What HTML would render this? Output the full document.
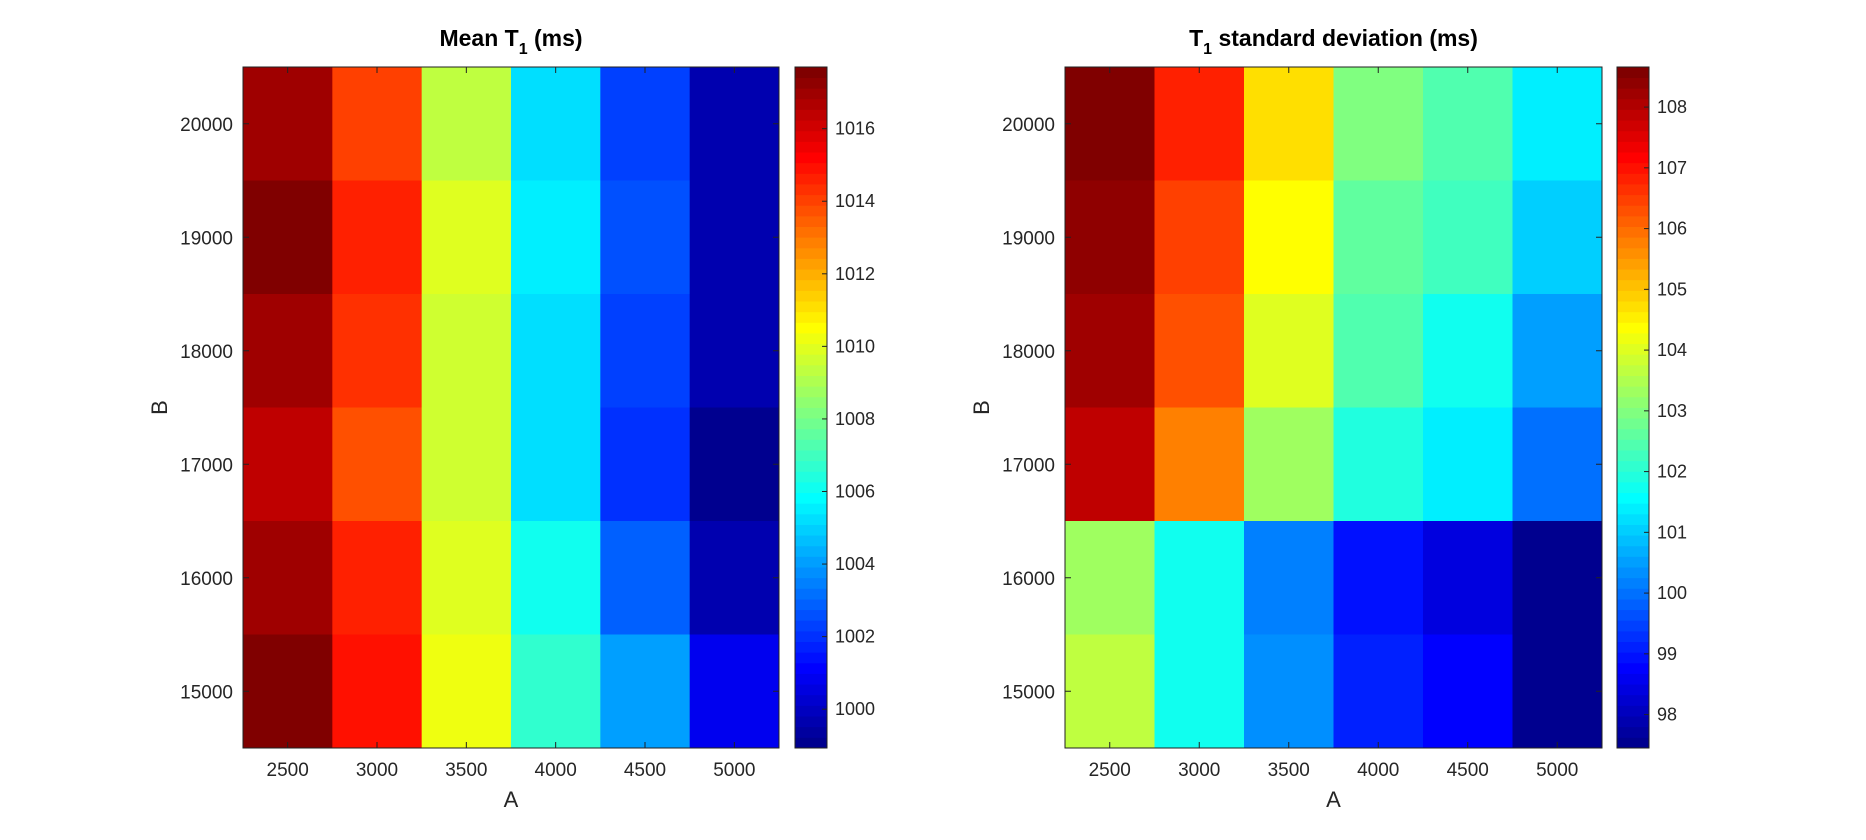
<!DOCTYPE html>
<html><head><meta charset="utf-8">
<style>
html,body{margin:0;padding:0;background:#fff;}
svg{display:block;font-family:"Liberation Sans",Arial,sans-serif;}
</style></head>
<body>
<svg id="fig" width="1866" height="840" viewBox="0 0 1866 840"></svg>
<script>
const xCategories = [2500, 3000, 3500, 4000, 4500, 5000];
const yCategories = [20000, 19000, 18000, 17000, 16000, 15000];
const meanT1 = [
  [1017.1, 1013.9, 1009.2, 1005.1, 1002.4, 999.8],
  [1017.6, 1014.5, 1009.8, 1005.5, 1002.6, 999.7],
  [1017.1, 1014.2, 1009.5, 1005.3, 1002.4, 999.6],
  [1016.5, 1013.6, 1009.5, 1005.1, 1002.0, 998.9],
  [1017.1, 1014.5, 1009.8, 1006.0, 1003.0, 999.6],
  [1017.7, 1015.0, 1010.2, 1006.8, 1004.0, 1000.8]
];
const sdT1 = [
  [108.6, 106.75, 104.7, 103.05, 102.5, 101.4],
  [108.4, 106.4, 104.3, 102.7, 102.2, 101.0],
  [108.3, 106.3, 103.95, 102.4, 101.8, 100.6],
  [107.8, 105.7, 103.4, 101.9, 101.4, 100.0],
  [103.4, 101.8, 100.1, 99.0, 98.5, 97.45],
  [103.6, 101.8, 100.3, 99.2, 98.7, 97.5]
];
const meanRange = [998.93, 1017.7];
const sdRange = [97.45, 108.66];
const meanTicks = [1000, 1002, 1004, 1006, 1008, 1010, 1012, 1014, 1016];
const sdTicks = [98, 99, 100, 101, 102, 103, 104, 105, 106, 107, 108];

const NS = "http://www.w3.org/2000/svg";
const svg = document.getElementById('fig');
function mk(tag, attrs, parent) {
  const e = document.createElementNS(NS, tag);
  for (const k in attrs) e.setAttribute(k, attrs[k]);
  (parent || svg).appendChild(e);
  return e;
}
function clamp(v){return Math.max(0, Math.min(1, v));}
function jet(idx) {
  const x = (idx + 1) / 64;
  const r = clamp(1.5 - Math.abs(4*x - 3));
  const g = clamp(1.5 - Math.abs(4*x - 2));
  const b = clamp(1.5 - Math.abs(4*x - 1));
  return `rgb(${Math.round(r*255)},${Math.round(g*255)},${Math.round(b*255)})`;
}
function colorFor(v, range) {
  let idx = Math.floor((v - range[0]) / (range[1] - range[0]) * 64);
  idx = Math.max(0, Math.min(63, idx));
  return jet(idx);
}

function drawPanel(cfg) {
  const g = mk('g', {});
  
  
  const {x0, x1, y0, y1} = cfg;
  const nx = xCategories.length, ny = yCategories.length;
  const cw = (x1 - x0) / nx, ch = (y1 - y0) / ny;
  const xScale = i => x0 + (i + 0.5) * cw;
  const yScale = j => y0 + (j + 0.5) * ch;
  cfg.data.forEach((row, j) => row.forEach((v, i) => {
    const r = mk('rect', {x: xScale(i) - cw/2, y: yScale(j) - ch/2, width: cw + 0.5, height: ch + 0.5, fill: colorFor(v, cfg.range)}, g);
    
    
  }));
  const box = mk('rect', {x: x0, y: y0, width: x1 - x0, height: y1 - y0, fill: 'none', stroke: '#222', 'stroke-width': 1}, g);
  
  
  xCategories.forEach((c, i) => {
    const x = xScale(i);
    mk('line', {x1: x, x2: x, y1: y1, y2: y1 - 6, stroke: '#222'}, g);
    mk('line', {x1: x, x2: x, y1: y0, y2: y0 + 6, stroke: '#222'}, g);
    const t = mk('text', {x: x, y: 776, 'text-anchor': 'middle', 'font-size': 19, fill: '#262626'}, g);
    t.textContent = c;
    
    
  });
  yCategories.forEach((c, j) => {
    const y = yScale(j);
    mk('line', {x1: x0, x2: x0 + 6, y1: y, y2: y, stroke: '#222'}, g);
    mk('line', {x1: x1, x2: x1 - 6, y1: y, y2: y, stroke: '#222'}, g);
    const t = mk('text', {x: x0 - 10, y: y + 7, 'text-anchor': 'end', 'font-size': 19, fill: '#262626'}, g);
    t.textContent = c;
    
    
  });
  const xl = mk('text', {x: (x0 + x1)/2, y: 807, 'text-anchor': 'middle', 'font-size': 22, fill: '#262626'}, g);
  xl.textContent = 'A';
  
  
  const yl = mk('text', {x: cfg.bx, y: (y0 + y1)/2, 'text-anchor': 'middle', 'font-size': 22, fill: '#262626', transform: `rotate(-90 ${cfg.bx} ${(y0+y1)/2})`}, g);
  yl.textContent = 'B';
  
  
  const tt = mk('text', {x: (x0 + x1)/2, y: 46, 'text-anchor': 'middle', 'font-size': 23, 'font-weight': 'bold', fill: '#000'}, g);
  
  
  cfg.title(tt);
  const cb = mk('g', {}, g);
  
  
  const bh = (y1 - y0) / 64;
  for (let k = 0; k < 64; k++) {
    const r = mk('rect', {x: cfg.cx0, y: y1 - (k+1)*bh, width: cfg.cx1 - cfg.cx0, height: bh + 0.4, fill: jet(k)}, cb);
    
    
  }
  mk('rect', {x: cfg.cx0, y: y0, width: cfg.cx1 - cfg.cx0, height: y1 - y0, fill: 'none', stroke: '#222'}, cb);
  const vScale = v => y1 - (v - cfg.range[0]) / (cfg.range[1] - cfg.range[0]) * (y1 - y0);
  cfg.ticks.forEach(v => {
    const y = vScale(v);
    mk('line', {x1: cfg.cx1, x2: cfg.cx1 - 5, y1: y, y2: y, stroke: '#222'}, cb);
    const t = mk('text', {x: cfg.cx1 + 8, y: y + 6, 'font-size': 18, fill: '#262626'}, cb);
    t.textContent = v;
    
    
  });
}

drawPanel({name: 'mean-t1-panel', x0: 243, x1: 779, y0: 67, y1: 748, bx: 167,
  cx0: 795, cx1: 827, data: meanT1, range: meanRange, ticks: meanTicks,
  title: t => { t.innerHTML = 'Mean T<tspan font-size="16" dy="8">1</tspan><tspan dy="-8"> (ms)</tspan>'; }});
drawPanel({name: 'sd-t1-panel', x0: 1065, x1: 1602, y0: 67, y1: 748, bx: 989,
  cx0: 1617, cx1: 1649, data: sdT1, range: sdRange, ticks: sdTicks,
  title: t => { t.innerHTML = 'T<tspan font-size="16" dy="8">1</tspan><tspan dy="-8"> standard deviation (ms)</tspan>'; }});
</script>
</body></html>
